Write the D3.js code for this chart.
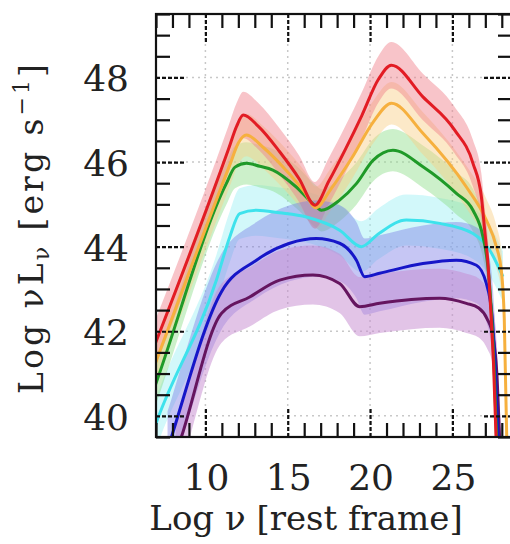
<!DOCTYPE html>
<html><head><meta charset="utf-8">
<script src="https://cdn.jsdelivr.net/npm/d3@7"></script>
<style>
html,body{margin:0;padding:0;background:#fff;}
svg{display:block;}
</style></head>
<body>
<svg id="chart" width="510" height="544"></svg>
<script>
// ---------- data ----------
const xMajorTicks = [10, 15, 20, 25];
const yMajorTicks = [40, 42, 44, 46, 48];
const xDomain = [7, 28.62];
const yDomain = [39.5, 49.5];

const seriesNames = ["red", "orange", "green", "cyan", "blue", "purple"];
const lineColors = ["#e21c24", "#f6b03e", "#1f9a28", "#3ee2ec", "#1616c8", "#65155f"];
const bandColors = ["#f07c88", "#f9cf86", "#8ede8a", "#9cf0f4", "#7878e4", "#c58ad0"];
const bandOpacity = [0.45, 0.45, 0.45, 0.45, 0.42, 0.5];
const bandHalfWidth = [0.55, 0.5, 0.5, 0.6, 0.9, 0.7];

const redPts = [[6.8,41.55],[7,41.75],[11.4,46.3],[11.9,46.85],[12.3,47.11],[13.2,46.85],[14.5,46.25],[15.7,45.6],[16.65,44.98],[17.5,45.55],[18.5,46.3],[19.5,47.1],[20.5,47.95],[21.29,48.29],[23.21,47.54],[25.13,46.76],[26.25,45.97],[26.76,45.18],[26.96,44.39],[27.16,43.6],[27.3,42.7],[27.5,41.2],[27.65,39.5],[27.7,39.0]];
const orangePts = [[6.8,41.07],[7,41.28],[11.5,45.95],[12.0,46.45],[12.49,46.64],[13.5,46.35],[14.8,45.85],[16.0,45.3],[16.7,44.92],[17.6,45.35],[18.9,46.1],[20.2,46.95],[21.3,47.39],[23.21,46.68],[25.85,45.41],[27.06,44.63],[27.67,44.0],[27.97,43.44],[28.15,42.3],[28.3,39.5],[28.35,39.0]];
const greenPts = [[6.8,40.55],[7,40.77],[11.27,45.49],[11.8,45.88],[12.49,45.97],[13.3,45.9],[14.1,45.81],[15.52,45.41],[16.74,44.94],[17.04,44.86],[18.15,45.1],[19.17,45.49],[20.18,46.04],[21.39,46.28],[23.21,45.89],[25.24,45.26],[26.25,44.86],[26.86,44.23],[27.16,43.52],[27.35,42.6],[27.55,41.0],[27.68,39.5],[27.75,39.0]];
const cyanPts = [[6.8,39.6],[7,39.82],[10.67,43.21],[11.48,44.23],[12.08,44.78],[13.1,44.86],[14.5,44.8],[16.13,44.7],[18.15,44.39],[19.47,44.0],[20.5,44.3],[22.2,44.63],[24.23,44.55],[26.25,44.31],[27.26,43.92],[28.07,43.29]];
const bluePts = [[7.7,39.2],[7.94,39.5],[10.97,42.93],[13.1,43.68],[15.12,44.08],[16.74,44.19],[18.15,44.08],[19.17,43.68],[19.67,43.29],[20.58,43.37],[23.21,43.6],[25.24,43.68],[26.46,43.56],[27.06,43.13],[27.4,42.4],[27.6,41.2],[27.78,39.5],[27.85,39.0]];
const purplePts = [[8.2,39.1],[8.54,39.5],[10.97,42.42],[12.69,42.81],[14.51,43.21],[16.53,43.33],[18.15,43.13],[19.37,42.58],[20.58,42.66],[22.5,42.75],[24.23,42.78],[25.85,42.66],[26.6,42.55],[27.1,42.3],[27.46,41.9],[27.7,41.0],[27.87,39.5],[27.95,39.0]];
const seriesPts = [redPts, orangePts, greenPts, cyanPts, bluePts, purplePts];

// ---------- layout ----------
const L = 156, T = 14, R = 512, B = 437;
const svg = d3.select("#chart");
const x = d3.scaleLinear().domain(xDomain).range([L, R]);
const y = d3.scaleLinear().domain(yDomain).range([B, T]);

svg.append("defs").append("clipPath").attr("id","clip")
  .append("rect").attr("x", L).attr("y", T).attr("width", R - L).attr("height", B - T);

// gridlines
const grid = svg.append("g");
grid.selectAll("line.gx").data(xMajorTicks).join("line")
  .attr("x1", d => x(d)).attr("x2", d => x(d)).attr("y1", T).attr("y2", B)
  .attr("stroke", "#c8c8c8").attr("stroke-width", 1.5).attr("stroke-dasharray", "2,4");
grid.selectAll("line.gy").data(yMajorTicks).join("line")
  .attr("x1", L).attr("x2", R).attr("y1", d => y(d)).attr("y2", d => y(d))
  .attr("stroke", "#c8c8c8").attr("stroke-width", 1.5).attr("stroke-dasharray", "2,4");

// bands & lines
const plot = svg.append("g").attr("clip-path", "url(#clip)");
const drawOrder = [3, 2, 1, 0, 4, 5];
drawOrder.forEach(i => {
  const w = bandHalfWidth[i];
  const area = d3.area().x(d => x(d[0])).y0(d => y(d[1] - w)).y1(d => y(d[1] + w)).curve(d3.curveMonotoneX);
  plot.append("path").datum(seriesPts[i]).attr("d", area)
    .attr("fill", bandColors[i]).attr("fill-opacity", bandOpacity[i]);
});
[5, 4, 3, 2, 1, 0].forEach(i => {
  const line = d3.line().x(d => x(d[0])).y(d => y(d[1])).curve(d3.curveMonotoneX);
  plot.append("path").datum(seriesPts[i]).attr("d", line)
    .attr("fill", "none").attr("stroke", lineColors[i]).attr("stroke-width", 3)
    .attr("stroke-linejoin", "round");
});

// ticks via d3 axes
const xMinor = d3.range(7, 29, 1).filter(v => !xMajorTicks.includes(v));
const yMinor = d3.range(39.5, 49.51, 0.5).filter(v => !yMajorTicks.includes(v));
function styleTicks(g, dashed) {
  g.select(".domain").remove();
  g.selectAll("text").remove();
  g.selectAll("line").attr("stroke", "#111").attr("stroke-width", 2.2)
    .attr("stroke-dasharray", dashed ? "4,2" : null);
}
svg.append("g").attr("transform", `translate(0,${B})`).call(d3.axisBottom(x).tickValues(xMinor).tickSize(-14)).call(g => styleTicks(g, false));
svg.append("g").attr("transform", `translate(0,${B})`).call(d3.axisBottom(x).tickValues(xMajorTicks).tickSize(-28)).call(g => styleTicks(g, true));
svg.append("g").attr("transform", `translate(0,${T})`).call(d3.axisTop(x).tickValues(xMinor).tickSize(-14)).call(g => styleTicks(g, false));
svg.append("g").attr("transform", `translate(0,${T})`).call(d3.axisTop(x).tickValues(xMajorTicks).tickSize(-28)).call(g => styleTicks(g, true));
svg.append("g").attr("transform", `translate(${L},0)`).call(d3.axisLeft(y).tickValues(yMinor).tickSize(-14)).call(g => styleTicks(g, false));
svg.append("g").attr("transform", `translate(${L},0)`).call(d3.axisLeft(y).tickValues(yMajorTicks).tickSize(-28)).call(g => styleTicks(g, true));
svg.append("g").attr("transform", `translate(${R},0)`).call(d3.axisRight(y).tickValues(yMinor).tickSize(-14)).call(g => styleTicks(g, false));
svg.append("g").attr("transform", `translate(${R},0)`).call(d3.axisRight(y).tickValues(yMajorTicks).tickSize(-28)).call(g => styleTicks(g, true));

// frame
svg.append("rect").attr("x", L).attr("y", T).attr("width", R - L).attr("height", B - T)
  .attr("fill", "none").attr("stroke", "#111").attr("stroke-width", 2.2);

// tick labels
const font = "DejaVu Serif, serif";
svg.append("g").selectAll("text").data(yMajorTicks).join("text")
  .attr("x", 129).attr("y", d => y(d) + 14)
  .attr("text-anchor", "end").attr("font-family", font).attr("font-size", 36).attr("fill", "#222")
  .text(d => d);
svg.append("g").selectAll("text").data(xMajorTicks).join("text")
  .attr("x", d => x(d) + 1).attr("y", 490)
  .attr("text-anchor", "middle").attr("font-family", font).attr("font-size", 36).attr("fill", "#222")
  .text(d => d);

// axis titles
svg.append("text").attr("x", 306).attr("y", 530).attr("text-anchor", "middle")
  .attr("font-family", font).attr("font-size", 34).attr("fill", "#222")
  .text("Log \u03BD [rest frame]");

const yt = svg.append("text").attr("transform", "translate(43,229) rotate(-90)")
  .attr("text-anchor", "middle").attr("font-family", font).attr("font-size", 33).attr("fill", "#222")
  .attr("textLength", 330).attr("lengthAdjust", "spacing");
yt.append("tspan").text("Log \u03BDL");
yt.append("tspan").attr("font-size", 22).attr("dy", 6).text("\u03BD");
yt.append("tspan").attr("dy", -6).text(" [erg s");
yt.append("tspan").attr("font-size", 22).attr("dy", -14).text("\u22121");
yt.append("tspan").attr("dy", 14).text("]");
</script>
</body></html>
